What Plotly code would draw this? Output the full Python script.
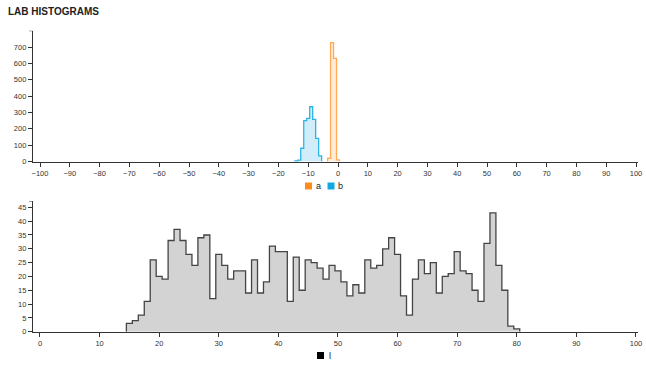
import plotly.graph_objects as go

# ---- data (bin centers, counts) ----
a_bins = [-3, -2, -1, 0]
a_counts = [20, 727, 631, 10]

b_bins = [-14, -13, -12, -11, -10, -9, -8, -7, -6]
b_counts = [3, 8, 81, 250, 264, 335, 258, 142, 34]

l_bins = list(range(15, 81))
l_counts = [3, 4, 6, 11, 26, 20, 19, 33, 37, 33,
            28, 24, 34, 35, 12, 28, 24, 19, 22, 22,
            14, 26, 14, 18, 31, 29, 29, 11, 27, 15,
            26, 25, 23, 19, 24, 22, 18, 13, 17, 14,
            26, 23, 24, 30, 34, 28, 13, 6, 19, 26,
            21, 25, 14, 20, 21, 29, 22, 21, 15, 11,
            32, 43, 24, 15, 2, 1]

top_ticks = list(range(-100, 101, 10))
bottom_ticks = list(range(0, 101, 10))
top_yticks = list(range(0, 701, 100))
bottom_yticks = list(range(0, 46, 5))

W, H = 646, 365
FONT = "Liberation Sans, Arial, Helvetica, sans-serif"


def step_xy(centers, counts, width=1.0):
    xs = [centers[0] - width / 2]
    ys = [0]
    for c, n in zip(centers, counts):
        xs.append(c - width / 2)
        ys.append(n)
    xs.append(centers[-1] + width / 2)
    ys.append(0)
    return xs, ys


fig = go.Figure()

bx, by = step_xy(b_bins, b_counts)
fig.add_trace(go.Scatter(x=bx, y=by, mode="lines", line_shape="hv",
                         line=dict(color="#2db4e6", width=1.3),
                         fill="tozeroy", fillcolor="rgba(150,215,242,0.45)",
                         name="b", showlegend=False, xaxis="x", yaxis="y"))
ax, ay = step_xy(a_bins, a_counts)
fig.add_trace(go.Scatter(x=ax, y=ay, mode="lines", line_shape="hv",
                         line=dict(color="#ffac55", width=1.3),
                         fill="tozeroy", fillcolor="rgba(255,200,150,0.35)",
                         name="a", showlegend=False, xaxis="x", yaxis="y"))
lx, ly = step_xy(l_bins, l_counts)
fig.add_trace(go.Scatter(x=lx, y=ly, mode="lines", line_shape="hv",
                         line=dict(color="#444444", width=1.3),
                         fill="tozeroy", fillcolor="#d3d3d3",
                         name="l", showlegend=False, xaxis="x2", yaxis="y2"))

xdom = [33 / W, 638 / W]
axis_common = dict(showline=True, linecolor="#333", linewidth=1.3,
                   ticks="outside", ticklen=4, tickwidth=1, tickcolor="#333",
                   showgrid=False, zeroline=False, automargin=False,
                   tickfont=dict(size=7.5, color="#333", family=FONT))

fig.update_layout(
    width=W, height=H,
    margin=dict(l=0, r=0, t=0, b=0, autoexpand=False),
    paper_bgcolor="white", plot_bgcolor="white",
    font=dict(family=FONT),
    showlegend=False,
    xaxis=dict(domain=xdom, range=[-102.35, 100.67], tickvals=top_ticks,
               anchor="y", **axis_common),
    yaxis=dict(domain=[(H - 161.5) / H, (H - 30.7) / H], range=[0, 800],
               tickvals=top_yticks, anchor="x", **axis_common),
    xaxis2=dict(domain=xdom, range=[-1.17, 100.34], tickvals=bottom_ticks,
                anchor="y2", **axis_common),
    yaxis2=dict(domain=[(H - 331.7) / H, (H - 201) / H], range=[0, 47.3],
                tickvals=bottom_yticks, anchor="x2", **axis_common),
)

# outer ticks at top of y axes
shapes = []
for yref, yv in (("y", 800), ("y2", 47.3)):
    shapes.append(dict(type="line", xref="paper", yref=yref,
                       x0=29 / W, x1=33 / W, y0=yv, y1=yv,
                       line=dict(color="#333", width=1)))

# legend squares
legend_items = [
    (305, 182.5, 7, "#ff8c1a", "a", 313.5),
    (327.5, 182.5, 7, "#12a9e3", "b", 336),
    (317, 352, 7, "#000000", "l", 327),
]
annotations = []
for x0, y0, s, col, lab, tx in legend_items:
    shapes.append(dict(type="rect", xref="paper", yref="paper",
                       x0=x0 / W, x1=(x0 + s) / W,
                       y0=(H - y0 - s) / H, y1=(H - y0) / H,
                       fillcolor=col, line=dict(width=0)))
    annotations.append(dict(text=lab, xref="paper", yref="paper",
                            x=tx / W, y=(H - y0 - s / 2) / H,
                            xanchor="left", yanchor="middle", showarrow=False,
                            font=dict(size=9, color="#222222", family=FONT)))

annotations.append(dict(text="<b>LAB HISTOGRAMS</b>", xref="paper", yref="paper",
                        x=6 / W, y=(H - 4) / H, xanchor="left", yanchor="top",
                        showarrow=False,
                        font=dict(size=10, color="#222", family=FONT)))

fig.update_layout(shapes=shapes, annotations=annotations)

fig.write_html(
    "out.html",
    config={"displayModeBar": False},
    post_script="document.body.style.margin='0px';"
                "document.documentElement.style.overflow='hidden';",
)
